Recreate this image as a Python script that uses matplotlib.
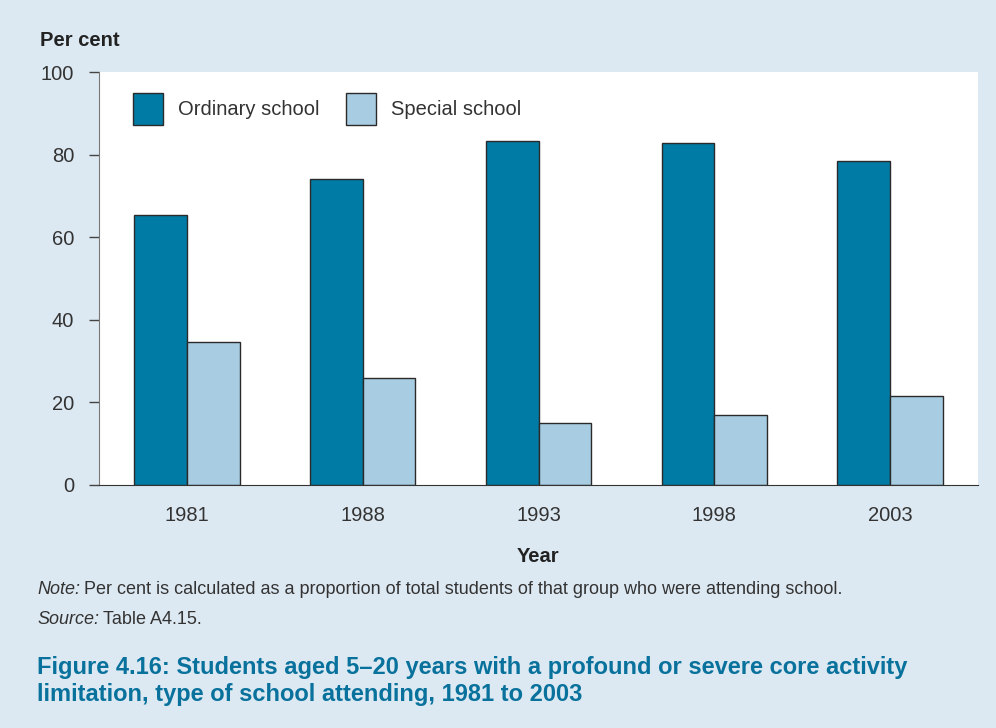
import matplotlib
matplotlib.use('Agg')
import matplotlib.pyplot as plt
import numpy as np

years = ['1981', '1988', '1993', '1998', '2003']
ordinary = [65.4, 74.1, 83.4, 82.9, 78.4]
special = [34.6, 25.9, 14.9, 17.0, 21.5]

BG = '#dde9f2'
DARK = '#007ba5'
LIGHT = '#a8cce1'
TEXT = '#333333'
FS = 14.5

plt.rcParams['font.family'] = ['Liberation Sans', 'DejaVu Sans']

fig = plt.figure(figsize=(9.96, 7.28), dpi=100, facecolor=BG)
ax = fig.add_axes([99 / 996, 1 - 485 / 728, 879 / 996, 413 / 728])
ax.set_facecolor('white')

x = np.arange(len(years))
w = 0.3
ax.bar(x - w / 2, ordinary, w, color=DARK, edgecolor='#2a2a2a', linewidth=1, label='Ordinary school')
ax.bar(x + w / 2, special, w, color=LIGHT, edgecolor='#2a2a2a', linewidth=1, label='Special school')

ax.set_xlim(-0.5, len(years) - 0.5)
ax.set_ylim(0, 100)
ax.set_yticks([0, 20, 40, 60, 80, 100])
ax.set_xticks(x)
ax.set_xticklabels(years)
ax.tick_params(axis='y', length=7, width=1, color='#444444', pad=11, labelsize=FS, labelcolor=TEXT)
ax.tick_params(axis='x', length=0, pad=15, labelsize=FS, labelcolor=TEXT)

for s in ['top', 'right']:
    ax.spines[s].set_visible(False)
ax.spines['left'].set_color('#777777')
ax.spines['bottom'].set_color('#333333')

ax.legend(loc='upper left', bbox_to_anchor=((133 - 99) / 879, (485 - 93) / 413), ncol=2,
          frameon=False, fontsize=FS, borderpad=0, borderaxespad=0,
          handlelength=1.5, handleheight=2.07, columnspacing=1.3,
          handletextpad=0.75, labelcolor=TEXT)

fig.text(40 / 996, 1 - 40 / 728, 'Per cent', fontsize=FS, fontweight='bold',
         color='#222222', va='center', ha='left')
fig.text(538 / 996, 1 - 556 / 728, 'Year', fontsize=FS, fontweight='bold',
         color='#222222', va='center', ha='center')

# note lines: italic lead word followed by plain text
fig.canvas.draw()
renderer = fig.canvas.get_renderer()
for y, lead, rest in [(590, 'Note:', 'Per cent is calculated as a proportion of total students of that group who were attending school.'),
                      (620, 'Source:', 'Table A4.15.')]:
    t = fig.text(37 / 996, 1 - y / 728, lead, fontsize=13, style='italic', color=TEXT, va='center')
    bb = t.get_window_extent(renderer)
    fig.text((bb.x1 + 4) / 996, 1 - y / 728, rest, fontsize=13, color=TEXT, va='center')

fig.text(37 / 996, 1 - 681 / 728,
         'Figure 4.16: Students aged 5–20 years with a profound or severe core activity\n'
         'limitation, type of school attending, 1981 to 2003',
         fontsize=17, fontweight='bold', color='#08719c', va='center', ha='left',
         linespacing=1.2)

plt.savefig('out.png', dpi=100, facecolor=BG)
